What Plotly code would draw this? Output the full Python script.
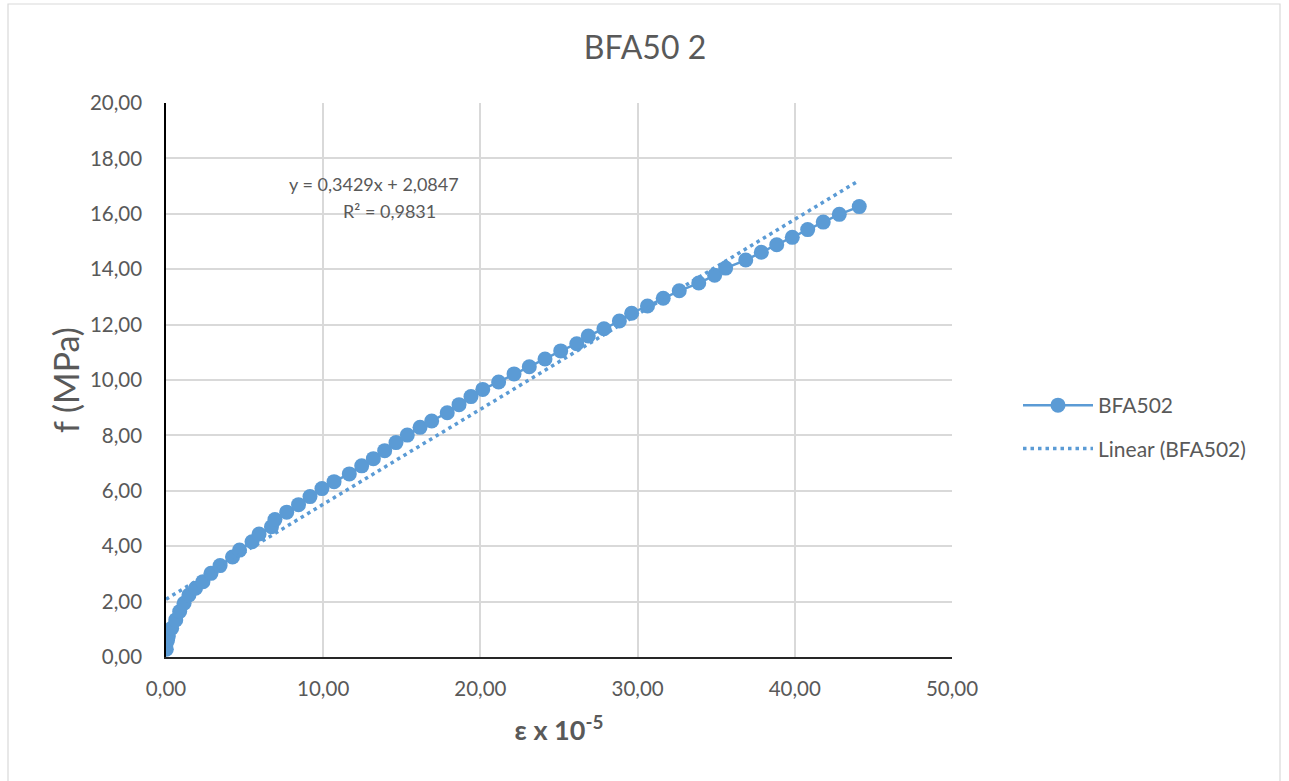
import plotly.graph_objects as go

# ---- data ----
strain = [0.02, 0.00, 0.10, 0.15, 0.36, 0.62, 0.87, 1.15, 1.46, 1.88,
          2.35, 2.86, 3.44, 4.23, 4.68, 5.47, 5.92, 6.71, 6.93, 7.68,
          8.43, 9.16, 9.92, 10.69, 11.66, 12.45, 13.19, 13.91, 14.63, 15.35,
          16.16, 16.90, 17.89, 18.64, 19.40, 20.15, 21.16, 22.14, 23.11, 24.11,
          25.11, 26.13, 26.86, 27.86, 28.84, 29.62, 30.63, 31.63, 32.65, 33.89,
          34.90, 35.60, 36.88, 37.87, 38.85, 39.84, 40.82, 41.81, 42.83, 44.10]
stress = [0.28, 0.45, 0.61, 0.76, 1.04, 1.34, 1.64, 1.94, 2.24, 2.48,
          2.72, 3.02, 3.30, 3.61, 3.86, 4.16, 4.44, 4.70, 4.96, 5.23,
          5.50, 5.79, 6.08, 6.33, 6.61, 6.90, 7.16, 7.45, 7.74, 8.01,
          8.29, 8.52, 8.82, 9.11, 9.40, 9.66, 9.93, 10.22, 10.48, 10.76,
          11.05, 11.31, 11.59, 11.85, 12.13, 12.41, 12.67, 12.95, 13.22, 13.50,
          13.78, 14.04, 14.33, 14.61, 14.88, 15.15, 15.43, 15.70, 15.98, 16.26]
slope = 0.3429
intercept = 2.0847
r2 = 0.9831
x_ticks = [0, 10, 20, 30, 40, 50]
y_ticks = [0, 2, 4, 6, 8, 10, 12, 14, 16, 18, 20]

series_name = "BFA502"
trend_name = "Linear (BFA502)"
title_text = "BFA50 2"

BLUE = "#5B9BD5"
GREY = "#595959"
GRID = "#D9D9D9"
FONT = "Lato, 'Open Sans', sans-serif"

trend_x = [min(strain), max(strain)]
trend_y = [slope * v + intercept for v in trend_x]

fig = go.Figure()
fig.add_trace(go.Scatter(
    x=strain, y=stress, mode="lines+markers", name=series_name,
    line=dict(color=BLUE, width=2.5),
    marker=dict(color=BLUE, size=15, line=dict(width=0)),
    legendgroup="a",
))
fig.add_trace(go.Scatter(
    x=trend_x, y=trend_y, mode="lines", name=trend_name,
    line=dict(color=BLUE, width=3.5, dash="3.5px,4px"),
    legendgroup="b",
))

def fmt(v):
    return f"{v:.4f}".replace(".", ",")

fig.add_annotation(x=13.2, y=17.08, xref="x", yref="y",
                   text=f"y = {fmt(slope)}x + {fmt(intercept)}",
                   showarrow=False, font=dict(size=18, color=GREY, family=FONT))
fig.add_annotation(x=14.2, y=16.1, xref="x", yref="y",
                   text=f"R² = {fmt(r2)}",
                   showarrow=False, font=dict(size=18, color=GREY, family=FONT))

# outer chart border
fig.add_shape(type="rect", xref="paper", yref="paper",
              x0=(8 - 166) / 786, x1=(1280 - 166) / 786,
              y0=(657 - 790) / 554, y1=(657 - 4) / 554,
              line=dict(color=GRID, width=1.2), fillcolor="rgba(0,0,0,0)",
              layer="below")

fig.update_layout(
    width=1289, height=781,
    paper_bgcolor="white", plot_bgcolor="white",
    separators=",.",
    margin=dict(l=166, r=337, t=103, b=124),
    font=dict(family=FONT, color=GREY, size=18),
    title=dict(text=title_text, x=(645) / 1289, xanchor="center",
               y=1 - 48 / 781, yanchor="middle",
               font=dict(size=32, color=GREY, family=FONT)),
    xaxis=dict(range=[0, 50], tickvals=x_ticks, tickformat=".2f",
               showgrid=True, gridcolor=GRID, gridwidth=1.5,
               showline=True, linecolor="#262626", linewidth=1.5,
               zeroline=False, ticks="", ticklabelstandoff=13,
               tickfont=dict(size=20.5, color=GREY),
               title=dict(text="<b>ε x 10<sup>-5</sup></b>", standoff=22,
                          font=dict(size=27, color=GREY))),
    yaxis=dict(range=[0, 20], tickvals=y_ticks, tickformat=".2f",
               showgrid=True, gridcolor=GRID, gridwidth=1.5,
               showline=True, linecolor="#000000", linewidth=1.5,
               zeroline=False, ticks="", ticklabelstandoff=18,
               tickfont=dict(size=20.5, color=GREY),
               title=dict(text="f (MPa)", standoff=0,
                          font=dict(size=34, color=GREY))),
    legend=dict(x=(1018 - 166) / 786, xanchor="left",
                y=(657 - 385) / 554, yanchor="top",
                font=dict(size=21, color=GREY),
                itemwidth=70, tracegroupgap=13, traceorder="grouped",
                bgcolor="rgba(0,0,0,0)"),
)

fig.write_html("out.html")
